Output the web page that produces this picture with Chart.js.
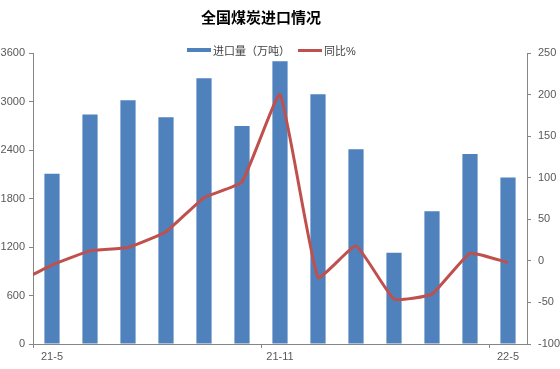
<!DOCTYPE html>
<html>
<head>
<meta charset="utf-8">
<script src="https://cdn.jsdelivr.net/npm/chart.js@4/dist/chart.umd.min.js"></script>
<style>
    body { margin: 0; background: #fff; }
    #wrap { position: relative; width: 560px; height: 369px; font-family: "Liberation Sans", "Noto Sans CJK SC", sans-serif; }
    #title { position: absolute; left: 200px; top: 6px; width: 122px; text-align: center; font: bold 15px "Noto Sans CJK SC", sans-serif; color: #000; white-space: nowrap; }
    #legend { position: absolute; left: 187px; top: 42px; font-size: 11px; color: #404040; white-space: nowrap; display: flex; align-items: center; }
    .mk { display: inline-block; width: 24px; margin-right: 2px; }
</style>
</head>
<body>
<div id="wrap">
    <canvas id="chart" width="560" height="369"></canvas>
    <div id="title">全国煤炭进口情况</div>
    <div id="legend">
        <span class="mk" style="height:4px;background:#4F81BD"></span><span>进口量（万吨）</span>
        <span class="mk" style="height:3px;background:#C0504D;margin-left:8px"></span><span>同比%</span>
    </div>
</div>
<script>
const months = ['21-5', '21-6', '21-7', '21-8', '21-9', '21-10', '21-11', '21-12', '22-1', '22-2', '22-3', '22-4', '22-5']
const imports = [2105, 2839, 3017, 2805, 3288, 2697, 3498, 3091, 2410, 1130, 1642, 2350, 2060]
const yoy = [-5, 12, 16, 35, 76, 95, 200, -20, 18, -46, -40, 9, -2]
// value of the month before 21-5, only its clipped tail shows at the left edge
const yoyPrev = -28

const leftTicks = [0, 600, 1200, 1800, 2400, 3000, 3600]
const rightTicks = [-100, -50, 0, 50, 100, 150, 200, 250]

const axisGray = '#868686'
const labelColor = '#595959'

const lineData = [{ x: -1, y: yoyPrev }].concat(yoy.map((v, i) => ({ x: i, y: v })))

new Chart(document.getElementById('chart').getContext('2d'), {
    type: 'bar',
    data: {
        labels: months,
        datasets: [{
            label: '进口量（万吨）',
            data: imports,
            xAxisID: 'x',
            yAxisID: 'y',
            backgroundColor: '#4F81BD',
            categoryPercentage: 1,
            barPercentage: 0.4,
            grouped: false,
            order: 1
        }, {
            type: 'line',
            label: '同比%',
            data: lineData,
            xAxisID: 'x2',
            yAxisID: 'y1',
            borderColor: '#C0504D',
            borderWidth: 3,
            pointRadius: 0,
            tension: 0.12,
            order: 0
        }]
    },
    options: {
        responsive: false,
        animation: false,
        layout: { padding: { top: 53 } },
        plugins: { legend: { display: false }, title: { display: false }, tooltip: { enabled: false } },
        scales: {
            x: {
                type: 'category',
                offset: true,
                grid: {
                    offset: true,
                    drawOnChartArea: false,
                    tickLength: 4,
                    color: ctx => (ctx.index !== undefined && ctx.index % 6 === 0) ? axisGray : 'rgba(0,0,0,0)'
                },
                border: { color: axisGray },
                ticks: {
                    autoSkip: false,
                    maxRotation: 0,
                    color: labelColor,
                    font: { size: 11 },
                    padding: 2,
                    callback: (v, i) => i % 6 === 0 ? months[i] : ''
                },
                afterFit: s => { s.height = 25 }
            },
            x2: {
                type: 'linear',
                display: false,
                offset: false,
                min: -0.5,
                max: months.length - 0.5
            },
            y: {
                position: 'left',
                min: leftTicks[0],
                max: leftTicks[leftTicks.length - 1],
                afterBuildTicks: s => { s.ticks = leftTicks.map(v => ({ value: v })) },
                grid: { drawOnChartArea: false, tickLength: 4, color: axisGray },
                border: { color: axisGray },
                ticks: { color: labelColor, font: { size: 11 }, padding: 4, callback: v => String(v) },
                afterFit: s => { s.width = 33 }
            },
            y1: {
                position: 'right',
                min: rightTicks[0],
                max: rightTicks[rightTicks.length - 1],
                afterBuildTicks: s => { s.ticks = rightTicks.map(v => ({ value: v })) },
                grid: { drawOnChartArea: false, tickLength: 4, color: axisGray },
                border: { color: axisGray },
                ticks: { color: labelColor, font: { size: 11 }, padding: 7, callback: v => String(v) },
                afterFit: s => { s.width = 33 }
            }
        }
    }
});
</script>
</body>
</html>
